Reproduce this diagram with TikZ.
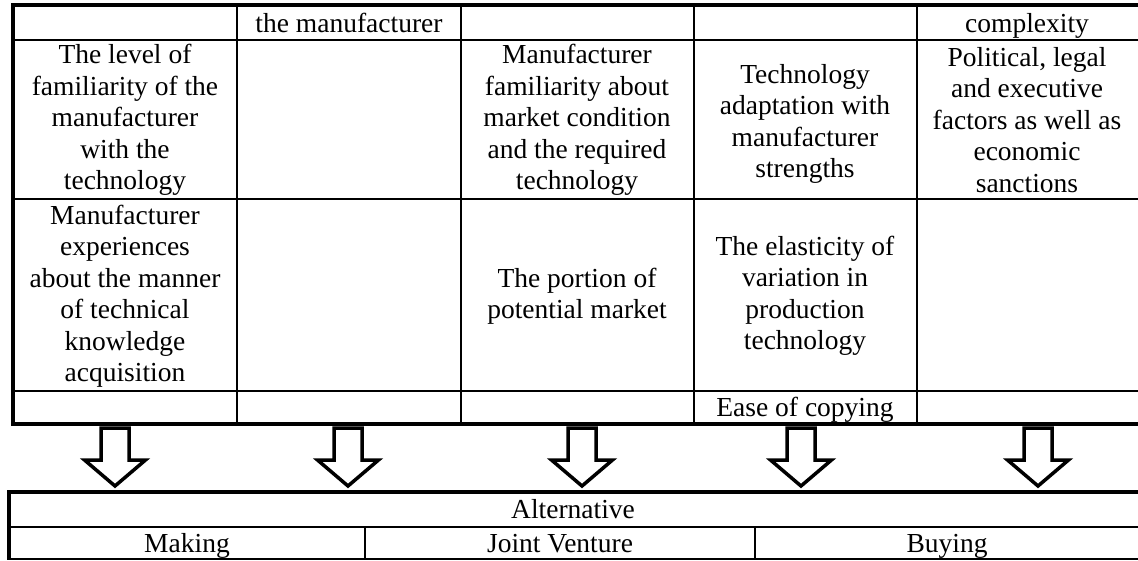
\documentclass[tikz,border=0pt]{standalone}
\usepackage{fontspec}
\setmainfont{Liberation Serif}
\begin{document}
\begin{tikzpicture}[x=1pt,y=-1pt,
  outerline/.style={line width=3.5pt},
  innerline/.style={line width=1.8pt},
  cell/.style={align=center, font=\fontsize{27.5}{31.5}\selectfont, inner sep=0pt},
  oneline/.style={cell, anchor=base},
  blockarrow/.style={draw, fill=white, line width=3.5pt, line join=miter}]
\useasboundingbox (0,0) rectangle (1138,560);

% ---- top table ----
\foreach \y in {40,199,391} \draw[innerline] (13,\y) -- (1138,\y);
\foreach \x in {237,461,694,917} \draw[innerline] (\x,5) -- (\x,424);
\draw[outerline] (1138,5) -- (13,5) -- (13,424) -- (1138,424);

% row 1
\node[oneline] (r1c2) at (349,32) {the manufacturer};
\node[oneline] (r1c5) at (1027,32) {complexity};
% row 2
\node[cell] (r2c1) at (125,120) {The level of\\familiarity of the\\manufacturer\\with the\\technology};
\node[cell] (r2c3) at (577,120) {Manufacturer\\familiarity about\\market condition\\and the required\\technology};
\node[cell] (r2c4) at (805,124) {Technology\\adaptation with\\manufacturer\\strengths};
\node[cell] (r2c5) at (1027,120) {Political, legal\\and executive\\factors as well as\\economic\\sanctions};
% row 3
\node[cell] (r3c1) at (125,296) {Manufacturer\\experiences\\about the manner\\of technical\\knowledge\\acquisition};
\node[cell] (r3c3) at (577,296) {The portion of\\potential market};
\node[cell] (r3c4) at (805,296) {The elasticity of\\variation in\\production\\technology};
% row 4
\node[oneline] (r4c4) at (805,416) {Ease of copying};

% ---- block arrows ----
\foreach \c [count=\i] in {115,348,582,801,1038} {
  \coordinate (arrtop\i) at (\c,428);
  \coordinate (arrtip\i) at (\c,486);
  \draw[blockarrow] (\c-14,428) -- (\c+14,428) -- (\c+14,460) -- (\c+30.5,460)
     -- (arrtip\i) -- (\c-30.5,460) -- (\c-14,460) -- cycle;
}

% ---- bottom table ----
\draw[innerline] (9,527) -- (1138,527);
\draw[innerline] (365,527) -- (365,560);
\draw[innerline] (755,527) -- (755,560);
\draw[innerline] (9,559) -- (1138,559);
\draw[outerline] (1138,492) -- (9,492) -- (9,560);

\node[oneline] (alt) at (573,518) {Alternative};
\node[oneline] (make) at (187,552) {Making};
\node[oneline] (jv) at (560,552) {Joint Venture};
\node[oneline] (buy) at (947,552) {Buying};
\end{tikzpicture}
\end{document}
